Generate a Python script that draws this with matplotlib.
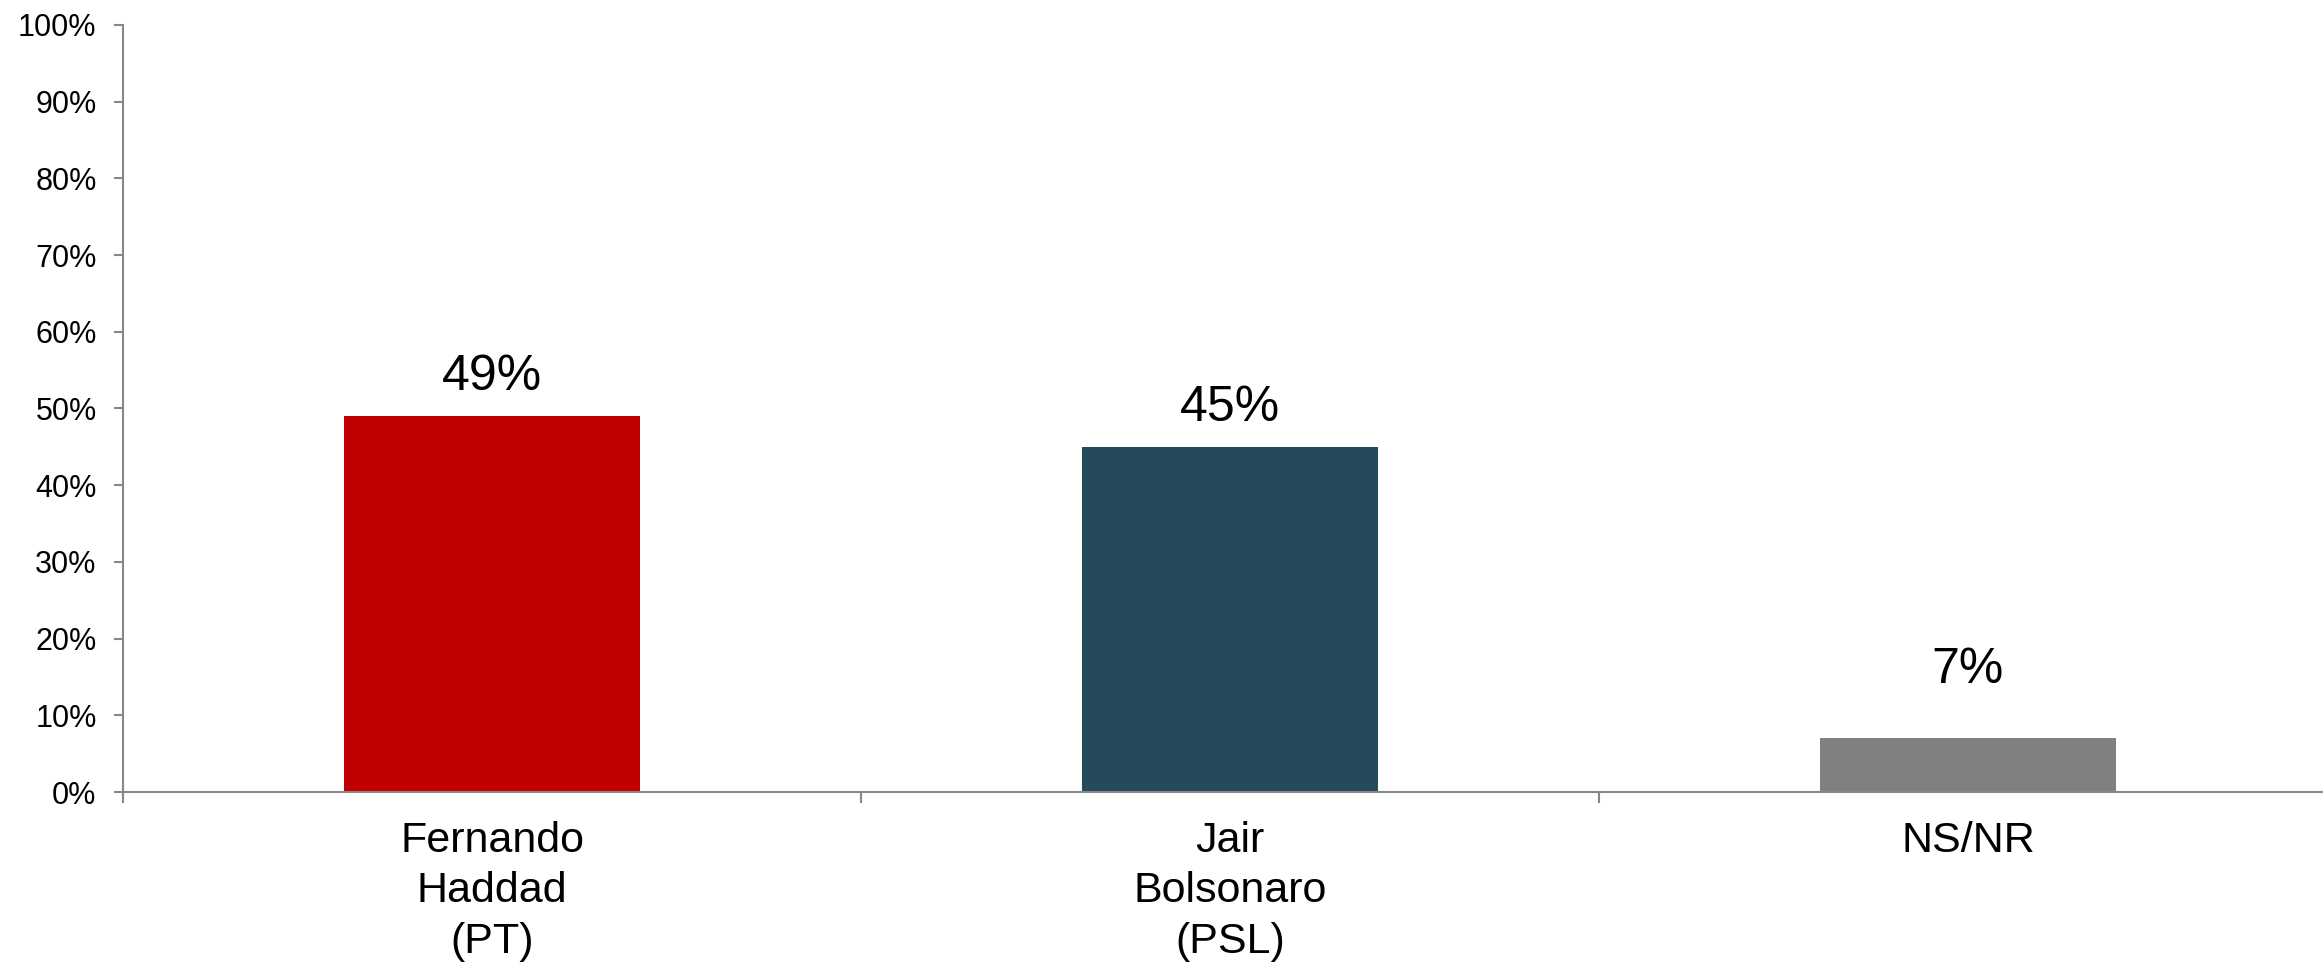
import matplotlib
matplotlib.use("Agg")
import matplotlib.pyplot as plt
from matplotlib.ticker import FixedLocator, PercentFormatter

categories = ["Fernando\nHaddad\n(PT)", "Jair\nBolsonaro\n(PSL)", "NS/NR"]
values = [49, 45, 7]
value_labels = ["49%", "45%", "7%"]
colors = ["#C00000", "#254B5A", "#808080"]
label_offsets_pt = [18.5, 18.5, 39.5]
yticks = list(range(0, 101, 10))

plt.rcParams['font.family'] = ['Liberation Sans', 'DejaVu Sans']

W, H = 2323, 963
fig = plt.figure(figsize=(W / 100, H / 100), dpi=100)
left, bottom, top = 123, 792, 25
cat_w = 738
ax = fig.add_axes([left / W, 1 - bottom / H, 3 * cat_w / W, (bottom - top) / H])

x = list(range(len(categories)))
ax.bar(x, values, width=0.4, color=colors, zorder=2)
ax.set_xlim(-0.5, 2.5)
ax.set_ylim(0, 100)

for xi, v, lab, off in zip(x, values, value_labels, label_offsets_pt):
    ax.annotate(lab, (xi, v), xytext=(0, off), textcoords="offset points",
                ha="center", va="baseline", fontsize=36, color="black")

spine_color = "#878787"
for s in ["top", "right"]:
    ax.spines[s].set_visible(False)
for s in ["left", "bottom"]:
    ax.spines[s].set_color(spine_color)
    ax.spines[s].set_linewidth(1.5)

ax.set_yticks(yticks)
ax.yaxis.set_major_formatter(PercentFormatter(decimals=0))
ax.tick_params(axis="y", direction="out", length=6.5, width=1.5, color=spine_color,
               labelsize=22, pad=12.5)

ax.set_xticks(x)
ax.set_xticklabels(categories, fontsize=31, linespacing=1.33)
ax.tick_params(axis="x", which="major", length=0, pad=21)
ax.xaxis.set_minor_locator(FixedLocator([-0.5, 0.5, 1.5, 2.5]))
ax.tick_params(axis="x", which="minor", direction="out", length=8, width=1.5, color=spine_color)

fig.savefig("out.png", dpi=100)
